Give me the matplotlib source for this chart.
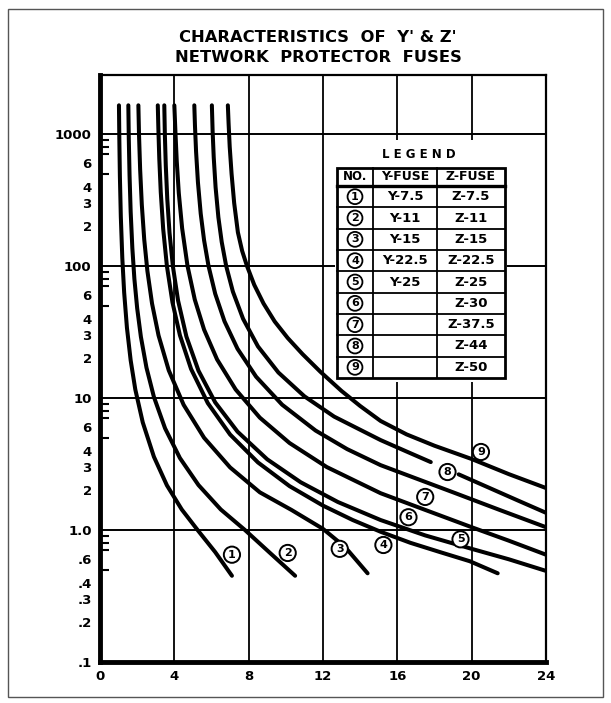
import matplotlib
matplotlib.use("Agg")
import matplotlib.pyplot as plt
from matplotlib.patches import Rectangle
from matplotlib.lines import Line2D

W, H = 611, 703

# time-current curves: current (x) vs melting time (seconds, log)
c1_x = [1.02, 1.04, 1.07, 1.12, 1.2, 1.3, 1.45, 1.65, 1.9, 2.3, 2.9, 3.6, 4.4, 5.3, 6.2, 7.1]
c1_t = [1650, 920, 480, 237, 115, 63, 34, 19.3, 11.6, 6.54, 3.59, 2.18, 1.43, 0.98, 0.68, 0.45]

c2_x = [1.525, 1.55, 1.59, 1.65, 1.74, 1.85, 2.0, 2.2, 2.5, 2.9, 3.5, 4.3, 5.3, 6.5, 7.8, 9.1, 10.5]
c2_t = [1650, 915, 486, 258, 137, 80, 47.9, 29.1, 17.0, 10.2, 5.9, 3.51, 2.19, 1.43, 1.0, 0.68, 0.45]

c3_x = [2.065, 2.1, 2.16, 2.25, 2.38, 2.55, 2.8, 3.15, 3.7, 4.5, 5.6, 7.0, 8.6, 10.3, 12.0, 13.2, 14.4]
c3_t = [1650, 983, 539, 291, 159, 91.8, 52, 29.8, 16.2, 8.88, 5.0, 2.98, 1.93, 1.42, 1.02, 0.74, 0.47]

c4_x = [3.11, 3.14, 3.19, 3.27, 3.4, 3.6, 3.9, 4.3, 4.9, 5.8, 7.0, 8.5, 10.2, 12.0, 13.6, 15.1, 16.7, 18.3,
        19.9, 21.4]
c4_t = [1650, 1111, 652, 362, 191, 100, 53, 29.9, 16.6, 9.15, 5.29, 3.25, 2.15, 1.53, 1.19, 0.97, 0.8, 0.68,
        0.58, 0.47]

c5_x = [3.46, 3.49, 3.54, 3.62, 3.74, 3.92, 4.2, 4.65, 5.3, 6.2, 7.4, 9.0, 10.8, 12.8, 15.1, 17.5, 20.0, 22.0,
        24.0]
c5_t = [1650, 989, 577, 322, 179, 100, 54.8, 29.2, 16.1, 9.26, 5.56, 3.43, 2.30, 1.63, 1.19, 0.91, 0.72, 0.60,
        0.49]

c6_x = [4.0, 4.06, 4.13, 4.24, 4.42, 4.71, 5.1, 5.6, 6.3, 7.3, 8.6, 10.2, 12.2, 15.1, 17.5, 20.0, 22.0, 24.0]
c6_t = [1650, 1025, 622, 357, 193, 100, 55.7, 33, 19.6, 11.6, 7.1, 4.56, 3.0, 1.9, 1.42, 1.05, 0.83, 0.65]

c7_x = [5.075, 5.11, 5.17, 5.27, 5.42, 5.6, 5.84, 6.2, 6.7, 7.4, 8.4, 9.8, 11.6, 13.3, 15.1, 17.0, 19.0, 21.5,
        24.0]
c7_t = [1650, 1159, 735, 431, 249, 157, 100, 61.6, 38.1, 23.6, 14.5, 8.9, 5.67, 4.1, 3.1, 2.46, 1.93, 1.42,
        1.05]

# curve 8 is broken where its number sits
c8a_x = [6.02, 6.06, 6.12, 6.22, 6.37, 6.55, 6.79, 7.15, 7.7, 8.5, 9.6, 11.0, 12.6, 15.1, 16.5, 17.8]
c8a_t = [1650, 1053, 665, 395, 234, 152, 100, 64, 39.8, 24.6, 15.6, 10.3, 7.23, 4.8, 3.93, 3.27]
c8b_x = [19.3, 21.0, 22.5, 24.0]
c8b_t = [2.64, 2.07, 1.67, 1.35]

c9_x = [6.88, 6.92, 6.98, 7.08, 7.22, 7.42, 7.65, 7.91, 8.3, 8.8, 9.4, 10.1, 10.9, 11.86, 13.0, 14.0, 15.1,
        16.5, 18.0, 20.0, 22.0, 24.0]
c9_t = [1650, 1200, 800, 500, 300, 180, 130, 100, 72, 52, 38, 28.5, 21.5, 15.8, 11.3, 8.7, 6.7, 5.3, 4.35,
        3.45, 2.65, 2.08]

curves = [(c1_x, c1_t), (c2_x, c2_t), (c3_x, c3_t), (c4_x, c4_t), (c5_x, c5_t),
          (c6_x, c6_t), (c7_x, c7_t), (c8a_x, c8a_t), (c8b_x, c8b_t), (c9_x, c9_t)]

# circled curve numbers
label_no = ['1', '2', '3', '4', '5', '6', '7', '8', '9']
label_x = [7.1, 10.1, 12.9, 15.25, 19.4, 16.6, 17.5, 18.7, 20.5]
label_t = [0.65, 0.67, 0.72, 0.77, 0.85, 1.25, 1.78, 2.75, 3.9]

# legend table
y_fuse = ['Y-7.5', 'Y-11', 'Y-15', 'Y-22.5', 'Y-25', '', '', '', '']
z_fuse = ['Z-7.5', 'Z-11', 'Z-15', 'Z-22.5', 'Z-25', 'Z-30', 'Z-37.5', 'Z-44', 'Z-50']

x_ticks = [0, 4, 8, 12, 16, 20, 24]
y_ticks = [0.1, 0.2, 0.3, 0.4, 0.6, 1, 2, 3, 4, 6, 10, 20, 30, 40, 60, 100,
           200, 300, 400, 600, 1000]
y_labels = ['.1', '.2', '.3', '.4', '.6', '1.0', '2', '3', '4', '6', '10', '2', '3', '4', '6',
            '100', '2', '3', '4', '6', '1000']
y_minor = [m * 10 ** d for d in range(-1, 3) for m in range(2, 10)]

plt.rcParams['font.family'] = 'DejaVu Sans'
plt.rcParams['font.weight'] = 'bold'


def fx(px):
    return px / W


def fy(py):
    return 1 - py / H


fig = plt.figure(figsize=(W / 100, H / 100), dpi=100)
ax = fig.add_axes([fx(100), fy(662), fx(546) - fx(100), fy(75) - fy(662)])
ax.set_yscale('log')
ax.set_xlim(0, 24)
ax.set_ylim(0.1, 2800)

# grid
for gx in x_ticks[1:-1]:
    ax.axvline(gx, color='black', lw=1.3, zorder=1)
for gy in [1, 10, 100, 1000]:
    ax.axhline(gy, color='black', lw=1.4, zorder=1)

for xs, ts in curves:
    ax.plot(xs, ts, color='black', lw=2.9, solid_capstyle='round', solid_joinstyle='round', zorder=3)

for no, lx, lt in zip(label_no, label_x, label_t):
    ax.text(lx, lt, no, ha='center', va='center', fontsize=8, fontweight='bold',
            bbox=dict(boxstyle='circle,pad=0.28', fc='white', ec='black', lw=1.4), zorder=5)

ax.set_xticks(x_ticks)
ax.set_xticklabels([str(v) for v in x_ticks], fontsize=9.5, fontweight='heavy')
ax.set_yticks(y_ticks)
ax.set_yticklabels(y_labels, fontsize=9.5, fontweight='heavy')
ax.set_yticks(y_minor, minor=True)
ax.tick_params(axis='both', which='major', length=0, pad=6)
ax.tick_params(axis='y', which='minor', direction='in', length=6.5, width=1.5, left=True)
ax.tick_params(axis='y', which='minor', labelleft=False)
ax.tick_params(axis='x', which='minor', bottom=False)

ax.spines['left'].set_linewidth(3.5)
ax.spines['bottom'].set_linewidth(3.5)
ax.spines['top'].set_linewidth(1.6)
ax.spines['right'].set_linewidth(1.6)

# legend table, drawn in figure pixels
tl, c1, c2, tr = 337, 373, 437, 505
top, head = 168, 186
row_h = (378 - head) / 9
fig.patches.append(Rectangle((fx(tl - 2), fy(382)), fx(tr + 2) - fx(tl - 2), fy(140) - fy(382),
                             transform=fig.transFigure, fc='white', ec='none', zorder=4))
fig.text(fx(419), fy(155), 'L E G E N D', ha='center', va='center', fontsize=8.5,
         fontweight='heavy', zorder=6)
fig.patches.append(Rectangle((fx(tl), fy(378)), fx(tr) - fx(tl), fy(top) - fy(378),
                             transform=fig.transFigure, fc='none', ec='black', lw=2.0, zorder=6))
fig.lines.append(Line2D([fx(tl), fx(tr)], [fy(head), fy(head)], transform=fig.transFigure,
                        color='black', lw=2.4, zorder=6))
for i in range(1, 9):
    yy = fy(head + i * row_h)
    fig.lines.append(Line2D([fx(tl), fx(tr)], [yy, yy], transform=fig.transFigure,
                            color='black', lw=1.3, zorder=6))
for cx in (c1, c2):
    fig.lines.append(Line2D([fx(cx), fx(cx)], [fy(top), fy(378)], transform=fig.transFigure,
                            color='black', lw=1.3, zorder=6))

hy = fy((top + head) / 2)
fig.text(fx((tl + c1) / 2), hy, 'NO.', ha='center', va='center', fontsize=8.5, fontweight='heavy', zorder=7)
fig.text(fx((c1 + c2) / 2), hy, 'Y-FUSE', ha='center', va='center', fontsize=9, fontweight='heavy', zorder=7)
fig.text(fx((c2 + tr) / 2), hy, 'Z-FUSE', ha='center', va='center', fontsize=9, fontweight='heavy', zorder=7)
for i in range(9):
    ry = fy(head + (i + 0.5) * row_h)
    fig.text(fx((tl + c1) / 2), ry, label_no[i], ha='center', va='center', fontsize=8,
             fontweight='bold', zorder=7,
             bbox=dict(boxstyle='circle,pad=0.22', fc='white', ec='black', lw=1.3))
    fig.text(fx((c1 + c2) / 2), ry, y_fuse[i], ha='center', va='center', fontsize=9.5,
             fontweight='heavy', zorder=7)
    fig.text(fx((c2 + tr) / 2), ry, z_fuse[i], ha='center', va='center', fontsize=9.5,
             fontweight='heavy', zorder=7)

fig.text(fx(318), fy(38), "CHARACTERISTICS  OF  Y' & Z'", ha='center', va='center',
         fontsize=11.8, fontweight='heavy')
fig.text(fx(318), fy(57), 'NETWORK  PROTECTOR  FUSES', ha='center', va='center',
         fontsize=11.8, fontweight='heavy')

# page frame
fig.patches.append(Rectangle((fx(8), fy(697)), fx(603) - fx(8), fy(9) - fy(697),
                             transform=fig.transFigure, fc='none', ec='#555555', lw=1.0))

fig.savefig('out.png', dpi=100)
